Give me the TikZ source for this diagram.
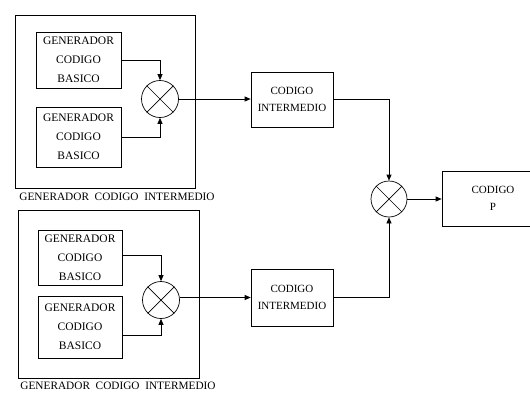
\documentclass[tikz,border=0pt]{standalone}
\usepackage{fontspec}
\setmainfont{Liberation Serif}
\usetikzlibrary{arrows.meta,calc}
\begin{document}
\begin{tikzpicture}[x=1pt,y=-1pt,
  line width=0.7pt,
  blk/.style={draw,rectangle,inner sep=0pt,align=center,font=\fontsize{11.5}{19}\selectfont},
  mid/.style={draw,rectangle,inner sep=0pt,align=center,font=\fontsize{11}{17}\selectfont},
  outer/.style={draw,rectangle,inner sep=0pt,line width=0.8pt},
  mult/.style={draw,circle,inner sep=0pt,minimum size=37pt},
  lbl/.style={font=\fontsize{11.3}{12}\selectfont,inner sep=0pt},
  arr/.style={-{Triangle[length=6pt,width=5pt]}}]
\useasboundingbox (0,0) rectangle (530,392);
% outer boxes
\node[outer,minimum width=180pt,minimum height=173pt] (o1) at (105,101.5) {};
\node[outer,minimum width=181pt,minimum height=168pt] (o2) at (108.5,294) {};
\node[lbl] (l1) at (117,197) {GENERADOR\ \ CODIGO\ \ INTERMEDIO};
\node[lbl] (l2) at (118,386) {GENERADOR\ \ CODIGO\ \ INTERMEDIO};
% top generator
\node[blk,minimum width=85pt,minimum height=56pt] (a1) at (78.5,60) {GENERADOR\\CODIGO\\BASICO};
\node[blk,minimum width=85pt,minimum height=60pt] (a2) at (78.5,137) {GENERADOR\\CODIGO\\BASICO};
\node[mult] (m1) at (160,99) {};
\draw (m1.north west) -- (m1.south east) (m1.north east) -- (m1.south west);
\draw[arr] (a1.east) -| (m1.north);
\draw[arr] (a2.east) -| (m1.south);
% bottom generator
\node[blk,minimum width=84pt,minimum height=55pt] (b1) at (80,257.5) {GENERADOR\\CODIGO\\BASICO};
\node[blk,minimum width=84pt,minimum height=62pt] (b2) at (80,327) {GENERADOR\\CODIGO\\BASICO};
\node[mult] (m2) at (161,300) {};
\draw (m2.north west) -- (m2.south east) (m2.north east) -- (m2.south west);
\coordinate (b1o) at ($(b1.east)+(0,-2)$);
\coordinate (b2o) at ($(b2.east)+(0,8)$);
\draw[arr] (b1o) -| (m2.north);
\draw[arr] (b2o) -| (m2.south);
% intermediate codes
\node[mid,minimum width=82pt,minimum height=55pt] (i1) at (292,99.5) {CODIGO\\INTERMEDIO};
\node[mid,minimum width=82pt,minimum height=57pt] (i2) at (292,297.5) {CODIGO\\INTERMEDIO};
\draw[arr] (m1.east) -- (m1.east -| i1.west);
\draw[arr] (m2.east |- i2.west) -- (i2.west);
% final combination
\node[mult,minimum size=36pt] (m3) at (389,199) {};
\draw (m3.north west) -- (m3.south east) (m3.north east) -- (m3.south west);
\draw[arr] (i1.east) -| (m3.north);
\draw[arr] (i2.east) -| (m3.south);
\node[mid,minimum width=102pt,minimum height=55pt] (p) at (493,198.5) {CODIGO\\P};
\draw[arr] (m3.east) -- (m3.east -| p.west);
\end{tikzpicture}
\end{document}
